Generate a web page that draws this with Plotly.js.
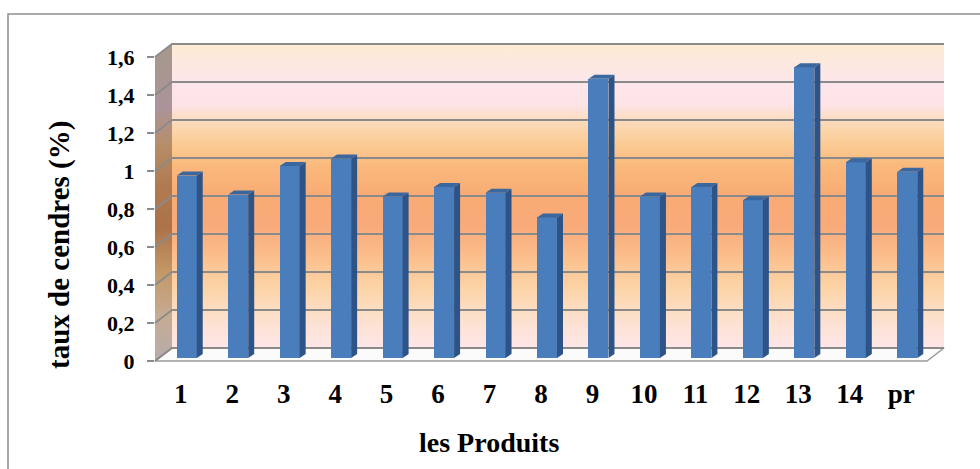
<!DOCTYPE html>
<html>
<head>
<meta charset="utf-8">
<script src="https://cdn.plot.ly/plotly-3.0.1.min.js"></script>
<style>
  html, body { margin: 0; padding: 0; background: #ffffff; }
  #chart { width: 980px; height: 469px; }
</style>
</head>
<body>
<div id="chart"></div>
<script>
// ---- data ----
const categories = ['1', '2', '3', '4', '5', '6', '7', '8', '9', '10', '11', '12', '13', '14', 'pr'];
const ashRate = [0.96, 0.86, 1.01, 1.05, 0.85, 0.90, 0.87, 0.74, 1.47, 0.85, 0.90, 0.83, 1.53, 1.03, 0.98];
const yTicks = [0, 0.2, 0.4, 0.6, 0.8, 1, 1.2, 1.4, 1.6];
const yTickLabels = ['0', '0,2', '0,4', '0,6', '0,8', '1', '1,2', '1,4', '1,6'];
const xTitle = 'les Produits';
const yTitle = 'taux de cendres (%)';

// ---- geometry of the pseudo-3D box (pixels) ----
const W = 980, H = 469;
const Y_MAX = 1.6;
const FRONT = { left: 155, right: 927, bottom: 361, top: 57 };
const DEPTH = { dx: 17, dy: 13 };        // back wall offset (right, up)
const BAR_SHIFT = { dx: 6, dy: 3 };      // bar front plane offset
const BAR_DEPTH = { dx: 6, dy: 4 };      // bar thickness seen in perspective
const BAR_WIDTH_PX = 20;

const n = categories.length;
const idx = categories.map((_, i) => i);
const pxPerCat = (FRONT.right - FRONT.left) / n;
const pxPerUnit = (FRONT.bottom - FRONT.top) / Y_MAX;

// scene coordinates: x in pixels, y measured upward from the bottom
const sy = py => H - py;
const frontY = v => FRONT.bottom - v * pxPerUnit;

const GRID = '#8a8a8a';
const FONT = 'Liberation Serif, Times New Roman, serif';

const traces = [];

// back wall with its warm vertical gradient
const bw = { l: FRONT.left + DEPTH.dx, r: FRONT.right + DEPTH.dx, t: FRONT.top - DEPTH.dy, b: FRONT.bottom - DEPTH.dy };
traces.push({
  type: 'scatter', mode: 'lines', xaxis: 'x', yaxis: 'y', hoverinfo: 'skip',
  x: [bw.l, bw.r, bw.r, bw.l, bw.l],
  y: [sy(bw.b), sy(bw.b), sy(bw.t), sy(bw.t), sy(bw.b)],
  fill: 'toself', line: { width: 0 },
  fillgradient: {
    type: 'vertical', start: sy(bw.b), stop: sy(bw.t),
    colorscale: [
      [0.00, '#fde6e8'], [0.08, '#fde2d3'], [0.20, '#fcd3a6'], [0.30, '#fbbf8c'],
      [0.40, '#f8aa7a'], [0.50, '#f8ab74'], [0.60, '#fab97c'], [0.68, '#fbcd98'],
      [0.75, '#fcdcbe'], [0.80, '#fde3e6'], [0.88, '#fde6ea'], [1.00, '#fdebd3']
    ]
  }
});

// left side wall
traces.push({
  type: 'scatter', mode: 'lines', xaxis: 'x', yaxis: 'y', hoverinfo: 'skip',
  x: [FRONT.left, FRONT.left, bw.l, bw.l, FRONT.left],
  y: [sy(FRONT.bottom), sy(FRONT.top), sy(bw.t), sy(bw.b), sy(FRONT.bottom)],
  fill: 'toself', line: { width: 0 },
  fillgradient: {
    type: 'vertical', start: sy(FRONT.bottom), stop: sy(bw.t),
    colorscale: [
      [0.00, '#b6acab'], [0.14, '#c6ab94'], [0.28, '#c49868'], [0.42, '#ac7249'],
      [0.55, '#b07a50'], [0.68, '#b68d68'], [0.80, '#ab949a'], [1.00, '#a6998a']
    ]
  }
});

// floor
traces.push({
  type: 'scatter', mode: 'lines', xaxis: 'x', yaxis: 'y', hoverinfo: 'skip',
  x: [FRONT.left, FRONT.right, FRONT.right + DEPTH.dx, bw.l, FRONT.left],
  y: [sy(FRONT.bottom), sy(FRONT.bottom), sy(bw.b), sy(bw.b), sy(FRONT.bottom)],
  fill: 'toself', fillcolor: '#fbfbfb', line: { color: '#9a9a9a', width: 1.5 }
});

// gridlines: slanted across the side wall, then along the back wall
const gx = [], gy = [];
yTicks.forEach(t => {
  const yf = frontY(t);
  gx.push(FRONT.left, bw.l, bw.r, null);
  gy.push(sy(yf), sy(yf - DEPTH.dy), sy(yf - DEPTH.dy), null);
});
traces.push({
  type: 'scatter', mode: 'lines', xaxis: 'x', yaxis: 'y', hoverinfo: 'skip',
  x: gx, y: gy, line: { color: GRID, width: 1.8 }
});

// invisible trace that anchors the front plane axes (tick labels)
traces.push({
  type: 'scatter', mode: 'markers', xaxis: 'x2', yaxis: 'y2', hoverinfo: 'skip',
  x: idx, y: idx.map(() => 0), marker: { opacity: 0, size: 1 }
});

// front face of the columns (bar plane axes)
const barW = BAR_WIDTH_PX / pxPerCat;
traces.push({
  type: 'bar', xaxis: 'x3', yaxis: 'y3', hoverinfo: 'skip',
  x: idx, y: ashRate, width: barW,
  marker: { color: '#4a7dbc', line: { width: 0 } }
});

// side and top faces of each column, computed from its value
const ddx = BAR_DEPTH.dx / pxPerCat, ddy = BAR_DEPTH.dy / pxPerUnit;
const shapes = [];
ashRate.forEach((v, i) => {
  const xr = i + barW / 2, xl = i - barW / 2;
  shapes.push({
    type: 'path', xref: 'x3', yref: 'y3', layer: 'above',
    path: `M ${xr},0 L ${xr + ddx},${ddy} L ${xr + ddx},${v + ddy} L ${xr},${v} Z`,
    fillcolor: '#2e5387', line: { width: 0 }
  });
  shapes.push({
    type: 'path', xref: 'x3', yref: 'y3', layer: 'above',
    path: `M ${xl},${v} L ${xr},${v} L ${xr + ddx},${v + ddy} L ${xl + ddx},${v + ddy} Z`,
    fillcolor: '#3b679f', line: { width: 0 }
  });
});

// chart area frame
shapes.push({
  type: 'rect', xref: 'paper', yref: 'paper',
  x0: 8 / W, x1: 1.05, y0: -0.05, y1: (H - 14) / H,
  line: { color: '#8e8e8e', width: 1.5 }, fillcolor: 'rgba(0,0,0,0)'
});

const hidden = { visible: false, fixedrange: true };
const xFrontDomain = [FRONT.left / W, FRONT.right / W];
const yFrontDomain = [(H - FRONT.bottom) / H, (H - FRONT.top) / H];

const layout = {
  width: W, height: H,
  margin: { l: 0, r: 0, t: 0, b: 0, pad: 0 },
  paper_bgcolor: '#ffffff', plot_bgcolor: 'rgba(0,0,0,0)',
  showlegend: false, hovermode: false,
  separators: ', ',
  // scene axes in pixel units
  xaxis: Object.assign({ domain: [0, 1], range: [0, W] }, hidden),
  yaxis: Object.assign({ domain: [0, 1], range: [0, H] }, hidden),
  // front plane axes: carry the tick labels
  xaxis2: {
    domain: xFrontDomain, range: [-0.5, n - 0.5], anchor: 'y2',
    tickvals: idx, ticktext: categories, ticks: '',
    showgrid: false, zeroline: false, showline: false, fixedrange: true,
    ticklabelstandoff: 14,
    tickfont: { family: FONT, size: 27, color: '#000000', weight: 'bold' }
  },
  yaxis2: {
    domain: yFrontDomain, range: [0, Y_MAX], anchor: 'x2',
    tickvals: yTicks, ticktext: yTickLabels,
    ticks: 'outside', ticklen: 7, tickwidth: 1.5, tickcolor: GRID,
    showgrid: false, zeroline: false, showline: false, fixedrange: true,
    ticklabelstandoff: 8,
    tickfont: { family: FONT, size: 22, color: '#000000', weight: 'bold' }
  },
  // bar plane axes, shifted into the depth of the box
  xaxis3: Object.assign({
    overlaying: 'x2', anchor: 'y3', domain: xFrontDomain,
    range: [-0.5 - BAR_SHIFT.dx / pxPerCat, n - 0.5 - BAR_SHIFT.dx / pxPerCat]
  }, hidden),
  yaxis3: Object.assign({
    overlaying: 'y2', anchor: 'x3', domain: yFrontDomain,
    range: [-BAR_SHIFT.dy / pxPerUnit, Y_MAX - BAR_SHIFT.dy / pxPerUnit]
  }, hidden),
  bargap: 0,
  shapes: shapes,
  annotations: [
    {
      text: xTitle, xref: 'paper', yref: 'paper',
      x: 489 / W, y: (H - 442) / H, xanchor: 'center', yanchor: 'middle',
      showarrow: false, font: { family: FONT, size: 28, color: '#000000', weight: 'bold' }
    },
    {
      text: yTitle, xref: 'paper', yref: 'paper', textangle: -90,
      x: 60 / W, y: (H - 245) / H, xanchor: 'center', yanchor: 'middle',
      showarrow: false, font: { family: FONT, size: 29, color: '#000000', weight: 'bold' }
    }
  ]
};

Plotly.newPlot('chart', traces, layout, { staticPlot: true, displayModeBar: false });
</script>
</body>
</html>
